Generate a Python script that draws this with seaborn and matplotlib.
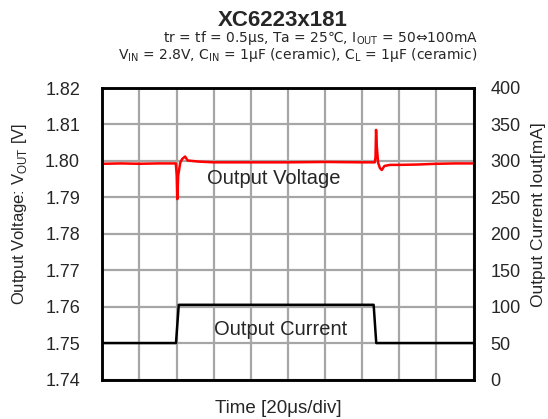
import matplotlib
matplotlib.use("Agg")
import matplotlib.pyplot as plt
import seaborn as sns

# ---- data ----
time_v = [0, 10, 20, 30, 39.6, 40.1, 40.4, 40.9, 42.0, 43.0, 44.6, 46.0, 48.0, 52.0,
          60, 80, 100, 120, 140, 146.8, 147.2, 147.5, 147.9, 148.6, 149.6, 150.6,
          152.0, 155.0, 160.0, 170.0, 180.0, 190.0, 200.0]
vout = [1.7992, 1.7993, 1.7992, 1.7993, 1.7993, 1.7960, 1.7895, 1.7960, 1.7995, 1.8005,
        1.8012, 1.8001, 1.8000, 1.7998, 1.7996, 1.7996, 1.7996, 1.7997, 1.7996, 1.7996,
        1.8010, 1.8085, 1.8040, 1.7995, 1.7980, 1.7975, 1.7986, 1.7989, 1.7989, 1.7990,
        1.7992, 1.7993, 1.7993]

time_i = [0, 20, 39.7, 41.2, 60, 100, 140, 146.2, 147.6, 170, 200]
iout = [50, 50, 50, 102.5, 102.5, 102.5, 102.5, 102.5, 50, 50, 50]

v_ticks = [1.74, 1.75, 1.76, 1.77, 1.78, 1.79, 1.80, 1.81, 1.82]
v_ticklabels = ["1.74", "1.75", "1.76", "1.77", "1.78", "1.79", "1.80", "1.81", "1.82"]
i_ticks = [0, 50, 100, 150, 200, 250, 300, 350, 400]
x_ticks = [0, 20, 40, 60, 80, 100, 120, 140, 160, 180, 200]

title = "XC6223x181"
subtitle1 = r"tr = tf = 0.5μs, Ta = 25℃, I$_{\mathregular{OUT}}$ = 50⇔100mA"
subtitle2 = (r"V$_{\mathregular{IN}}$ = 2.8V, C$_{\mathregular{IN}}$ = 1μF (ceramic), "
             r"C$_{\mathregular{L}}$ = 1μF (ceramic)")
xlabel = "Time [20μs/div]"
ylabel_left = r"Output Voltage: V$_{\mathregular{OUT}}$ [V]"
ylabel_right = "Output Current Iout[mA]"

# ---- style ----
sns.set_style("white")
plt.rcParams['font.family'] = ['Liberation Sans', 'Noto Sans CJK JP', 'DejaVu Sans']
plt.rcParams['mathtext.fontset'] = 'custom'
plt.rcParams['mathtext.rm'] = 'Liberation Sans'

fig = plt.figure(figsize=(5.48, 4.19), dpi=100)
ax = fig.add_axes([102.3 / 548, 1 - 379.5 / 419, (473.5 - 102.3) / 548, (379.5 - 88) / 419])
ax2 = ax.twinx()

sns.lineplot(x=time_v, y=vout, ax=ax, color="#ff0000", lw=1.8,
             estimator=None, sort=False, zorder=5)
sns.lineplot(x=time_i, y=iout, ax=ax2, color="black", lw=1.8,
             estimator=None, sort=False, zorder=5)

ax.set_xlim(0, 200)
ax.set_ylim(1.74, 1.82)
ax2.set_ylim(0, 400)
ax.set_xticks(x_ticks)
ax.set_xticklabels([])
ax.set_yticks(v_ticks)
ax.set_yticklabels(v_ticklabels)
ax2.set_yticks(i_ticks)

ax.grid(True, color="#a6a6a6", lw=1.6)
ax.set_axisbelow(True)
ax2.grid(False)

ax.tick_params(axis="both", length=0, labelsize=13, pad=16)
ax2.tick_params(axis="y", length=0, labelsize=13, pad=12)
ax.set_xlabel("")
ax.set_ylabel("")
ax2.set_ylabel("")

for a in (ax, ax2):
    for s in a.spines.values():
        s.set_color("black")
        s.set_linewidth(1.8)
        s.set_visible(True)

ax.text(92.5, 1.7951, "Output Voltage", ha="center", va="center", fontsize=14.5, zorder=6)
ax2.text(96, 68, "Output Current", ha="center", va="center", fontsize=14.5, zorder=6)

fig.text(283 / 548, 1 - 26 / 419, title, ha="center", va="baseline",
         fontsize=16, fontweight="bold")
fig.text(478 / 548, 1 - 42 / 419, subtitle1, ha="right", va="baseline",
         fontsize=10, family="DejaVu Sans")
fig.text(478 / 548, 1 - 59.5 / 419, subtitle2, ha="right", va="baseline",
         fontsize=10, family="DejaVu Sans")
fig.text(278 / 548, 1 - 408 / 419, xlabel, ha="center", va="center", fontsize=13.5)
fig.text(20 / 548, 1 - 214 / 419, ylabel_left, ha="center", va="center",
         rotation=90, fontsize=12)
fig.text(539 / 548, 1 - 215 / 419, ylabel_right, ha="center", va="center",
         rotation=90, fontsize=12.5)

fig.savefig("out.png", dpi=100)
